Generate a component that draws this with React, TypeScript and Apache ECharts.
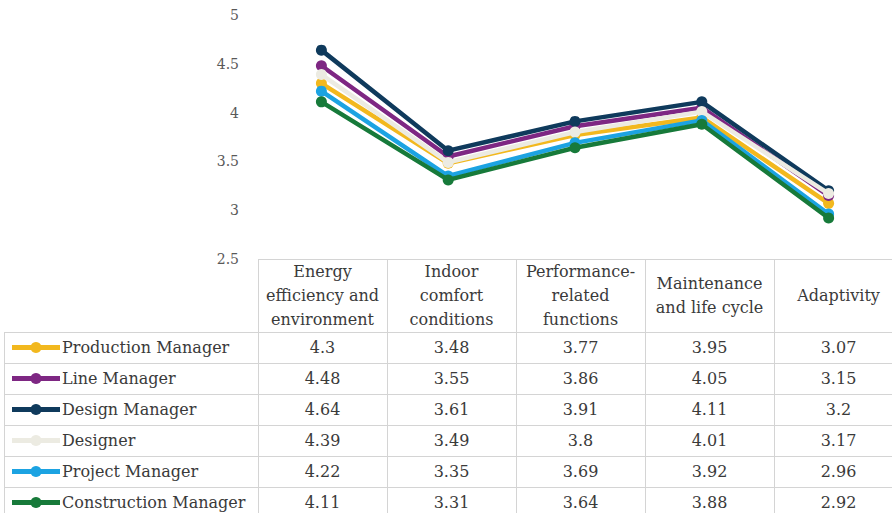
import React, { useEffect, useRef } from "react";
import * as echarts from "echarts";

const categories = [
  "Energy efficiency and environment",
  "Indoor comfort conditions",
  "Performance-related functions",
  "Maintenance and life cycle",
  "Adaptivity",
];
const headerLabels = [
  "Energy\nefficiency and\nenvironment",
  "Indoor\ncomfort\nconditions",
  "Performance-\nrelated\nfunctions",
  "Maintenance\nand life cycle",
  "Adaptivity",
];
const seriesNames = [
  "Production Manager",
  "Line Manager",
  "Design Manager",
  "Designer",
  "Project Manager",
  "Construction Manager",
];
const productionManager = [4.3, 3.48, 3.77, 3.95, 3.07];
const lineManager = [4.48, 3.55, 3.86, 4.05, 3.15];
const designManager = [4.64, 3.61, 3.91, 4.11, 3.2];
const designer = [4.39, 3.49, 3.8, 4.01, 3.17];
const projectManager = [4.22, 3.35, 3.69, 3.92, 2.96];
const constructionManager = [4.11, 3.31, 3.64, 3.88, 2.92];
const seriesValues = [
  productionManager,
  lineManager,
  designManager,
  designer,
  projectManager,
  constructionManager,
];
const seriesColors = ["#F2B81E", "#7E2783", "#0F3A5C", "#ECEBE2", "#1CA3E2", "#177A3A"];
const yTicks = { min: 2.5, max: 5, interval: 0.5 };

const FONT = "DejaVu Serif";
const GRID_LEFT = 258;
const COL_W = 129;
const GRID_TOP = 15;
const GRID_H = 244;
const TABLE_TOP = GRID_TOP + GRID_H;
const HEADER_H = 73;
const ROW_H = 31;
const LEG_LEFT = 4;
const LINE_COLOR = "#d4d4d4";
const TEXT_COLOR = "#3a3a3a";

export default function App() {
  const ref = useRef<HTMLDivElement>(null);
  useEffect(() => {
    if (!ref.current) return;
    const chart = echarts.init(ref.current, null, { renderer: "svg" });
    const nCols = categories.length;
    const tableRight = GRID_LEFT + COL_W * nCols;
    const rowsTop = TABLE_TOP + HEADER_H;
    const bottom = 520;
    const graphics: any[] = [];
    graphics.push({
      type: "line",
      shape: { x1: GRID_LEFT, y1: TABLE_TOP + 0.5, x2: tableRight, y2: TABLE_TOP + 0.5 },
      style: { stroke: LINE_COLOR, lineWidth: 1 },
      silent: true,
    });
    for (let r = 0; r <= seriesNames.length; r++) {
      const y = rowsTop + r * ROW_H + 0.5;
      graphics.push({
        type: "line",
        shape: { x1: LEG_LEFT, y1: y, x2: tableRight, y2: y },
        style: { stroke: LINE_COLOR, lineWidth: 1 },
        silent: true,
      });
    }
    for (let c = 0; c <= nCols; c++) {
      const x = GRID_LEFT + c * COL_W + 0.5;
      graphics.push({
        type: "line",
        shape: { x1: x, y1: TABLE_TOP, x2: x, y2: bottom },
        style: { stroke: LINE_COLOR, lineWidth: 1 },
        silent: true,
      });
    }
    graphics.push({
      type: "line",
      shape: { x1: LEG_LEFT + 0.5, y1: rowsTop, x2: LEG_LEFT + 0.5, y2: bottom },
      style: { stroke: LINE_COLOR, lineWidth: 1 },
      silent: true,
    });
    headerLabels.forEach((lab, c) => {
      graphics.push({
        type: "text",
        x: GRID_LEFT + c * COL_W + COL_W / 2,
        y: TABLE_TOP + HEADER_H / 2,
        style: {
          text: lab,
          font: `16px "${FONT}"`,
          fill: TEXT_COLOR,
          align: "center",
          verticalAlign: "middle",
          lineHeight: 24,
        },
        silent: true,
      });
    });
    seriesNames.forEach((name, r) => {
      const cy = rowsTop + r * ROW_H + ROW_H / 2;
      graphics.push({
        type: "line",
        shape: { x1: 12, y1: cy, x2: 60, y2: cy },
        style: { stroke: seriesColors[r], lineWidth: 5 },
        silent: true,
      });
      graphics.push({
        type: "circle",
        shape: { cx: 36, cy, r: 5.5 },
        style: { fill: seriesColors[r] },
        silent: true,
      });
      graphics.push({
        type: "text",
        x: 62,
        y: cy,
        style: {
          text: name,
          font: `16px "${FONT}"`,
          fill: TEXT_COLOR,
          align: "left",
          verticalAlign: "middle",
        },
        silent: true,
      });
      seriesValues[r].forEach((v, c) => {
        graphics.push({
          type: "text",
          x: GRID_LEFT + c * COL_W + COL_W / 2,
          y: cy,
          style: {
            text: String(v),
            font: `16px "${FONT}"`,
            fill: TEXT_COLOR,
            align: "center",
            verticalAlign: "middle",
          },
          silent: true,
        });
      });
    });

    chart.setOption({
      animation: false,
      backgroundColor: "#ffffff",
      grid: { left: GRID_LEFT, top: GRID_TOP, width: COL_W * nCols, height: GRID_H, containLabel: false },
      xAxis: {
        type: "category",
        data: categories,
        boundaryGap: true,
        axisLine: { show: false },
        axisTick: { show: false },
        axisLabel: { show: false },
        splitLine: { show: false },
      },
      yAxis: {
        type: "value",
        min: yTicks.min,
        max: yTicks.max,
        interval: yTicks.interval,
        axisLine: { show: false },
        axisTick: { show: false },
        splitLine: { show: false },
        axisLabel: {
          margin: 19,
          color: "#595959",
          fontFamily: FONT,
          fontSize: 14,
          padding: [6, 0, 0, 0],
        },
      },
      series: seriesNames.map((name, i) => ({
        name,
        type: "line",
        data: seriesValues[i],
        symbol: "circle",
        symbolSize: 11,
        itemStyle: { color: seriesColors[i] },
        lineStyle: { color: seriesColors[i], width: 4.5 },
        z: 2 + i,
      })),
      graphic: graphics,
    });
    return () => chart.dispose();
  }, []);
  return (
    <div
      ref={ref}
      style={{ position: "absolute", left: 0, top: 0, width: 892, height: 513, overflow: "hidden" }}
    />
  );
}
